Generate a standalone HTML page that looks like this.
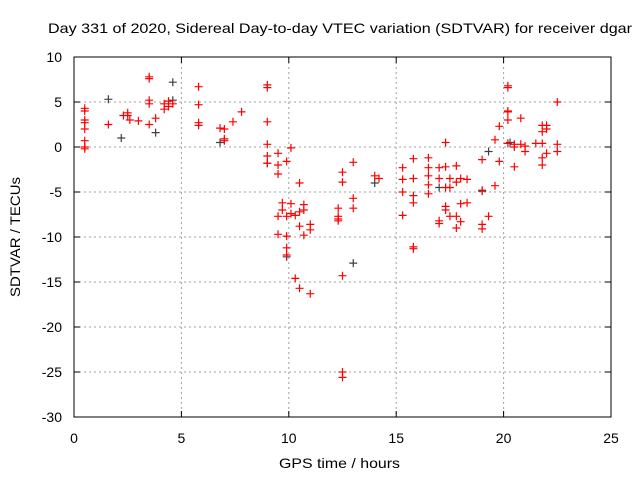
<!DOCTYPE html>
<html><head><meta charset="utf-8"><style>
body{margin:0;background:#fff;font-family:"Liberation Sans",sans-serif}
svg text{font-family:"Liberation Sans",sans-serif;font-size:14px;fill:#000}
</style></head><body>
<svg id="c" width="640" height="480" xmlns="http://www.w3.org/2000/svg">
<rect width="640" height="480" fill="#fff"/>
<g id="grid"></g><g id="pts"></g><g id="ax"></g>
</svg>
<script>
const xTicks=[0,5,10,15,20,25];
const yTicks=[10,5,0,-5,-10,-15,-20,-25,-30];
const redX=[0.5,0.5,0.5,0.5,0.5,0.5,0.5,0.5,1.6,2.3,2.5,2.5,2.6,3,3.5,3.5,3.5,3.5,3.5,3.8,4.2,4.2,4.4,4.4,4.6,5.8,5.8,5.8,5.8,6.8,7,7,7,7.4,7.8,9,9,9,9,9,9,9.5,9.5,9.5,9.5,9.5,9.7,9.7,9.9,9.9,9.9,9.9,9.9,10.1,10.1,10.1,10.3,10.3,10.5,10.5,10.5,10.5,10.7,10.7,10.7,11,11,11,12.3,12.3,12.3,12.3,12.5,12.5,12.5,12.5,12.5,13,13,13,14,14.2,15.3,15.3,15.3,15.3,15.8,15.8,15.8,15.8,15.8,15.8,16.5,16.5,16.5,16.5,16.5,17,17,17,17,17.3,17.3,17.3,17.3,17.3,17.5,17.5,17.5,17.8,17.8,17.8,17.8,18,18,18,18.3,18.3,19,19,19,19,19.3,19.6,19.6,19.8,19.8,20.2,20.2,20.2,20.2,20.2,20.2,20.5,20.5,20.5,20.8,20.8,21,21,21.5,21.8,21.8,21.8,21.8,21.8,22,22,22,22.5,22.5,22.5];
const redY=[4.3,4,3,2.7,2,0.7,0,-0.2,2.5,3.5,3.8,3.5,3,2.9,7.8,7.6,5.2,4.8,2.5,3.2,4.8,4.2,5.1,4.5,4.8,6.7,4.7,2.7,2.4,2.1,2,0.7,0.9,2.8,3.9,6.9,6.6,2.8,0.3,-1,-1.8,-0.7,-2,-3,-7.7,-9.7,-6.2,-7,-1.6,-7.7,-9.9,-11.2,-12,-0.1,-6.3,-7.4,-7.6,-14.6,-4,-7.2,-8.8,-15.7,-6.4,-7,-9.8,-8.6,-9.2,-16.3,-6.8,-7.7,-8,-8.2,-2.8,-3.9,-14.3,-25,-25.6,-1.7,-5.7,-6.8,-3.2,-3.5,-2.3,-3.6,-5,-7.6,-1.3,-3.5,-5.4,-6.2,-11.1,-11.3,-1.2,-2.3,-3.2,-5.2,-4.2,-2.3,-3.5,-8.5,-8.2,0.5,-2.2,-4.5,-6.6,-7,-3.5,-4.5,-7.7,-2.1,-3.9,-7.7,-9,-3.5,-6.3,-8.3,-3.6,-6.2,-1.4,-4.8,-8.6,-9.1,-7.7,-4.3,0.8,-1.6,2.3,6.8,6.6,4,3.9,3,0.4,0,0.3,-2.2,3.2,0.3,0.1,-0.5,0.4,-1.2,-2,1.7,2.4,0.4,2.4,-0.7,2,5,0.3,-0.5];
const grayX=[1.6,2.2,3.8,4.6,4.6,6.8,9,9.9,13,14,17,19,19.3,20.3];
const grayY=[5.3,1,1.6,7.2,5.2,0.5,-1.8,-12.2,-12.9,-4,-4.5,-4.9,-0.5,0.5];
const L=74,R=611,T=57,B=417;
const sx=v=>L+(v-0)/25*(R-L), sy=v=>T+(10-v)/40*(B-T);
const NS='http://www.w3.org/2000/svg';
function mk(t,a,p){const e=document.createElementNS(NS,t);for(const k in a)e.setAttribute(k,a[k]);p.appendChild(e);return e;}
const g=document.getElementById('grid'),ax=document.getElementById('ax'),pts=document.getElementById('pts');
xTicks.forEach(v=>{const x=sx(v);
 if(v>0&&v<25){const l=mk('line',{x1:x,x2:x,y1:T,y2:B,stroke:'#a0a0a0','stroke-dasharray':'2,3'},g);
 }
 mk('line',{x1:x,x2:x,y1:B,y2:B-6,stroke:'#000'},ax);mk('line',{x1:x,x2:x,y1:T,y2:T+6,stroke:'#000'},ax);
 const t=mk('text',{x:x,y:443,'text-anchor':'middle','font-size':'15px'},ax);t.textContent=v;
 });
yTicks.forEach(v=>{const y=sy(v);
 if(v>-30&&v<10){const l=mk('line',{x1:L,x2:R,y1:y,y2:y,stroke:'#a0a0a0','stroke-dasharray':'2,3'},g);
 }
 mk('line',{x1:L,x2:L+6,y1:y,y2:y,stroke:'#000'},ax);mk('line',{x1:R,x2:R-6,y1:y,y2:y,stroke:'#000'},ax);
 const t=mk('text',{x:62,y:y+5,'text-anchor':'end','font-size':'15px'},ax);t.textContent=v;
 });
const bd=mk('rect',{x:L,y:T,width:R-L,height:B-T,fill:'none',stroke:'#000'},ax);

function plus(x,y,c,n){const p=mk('path',{d:`M${x-4} ${y}H${x+4}M${x} ${y-4}V${y+4}`,stroke:c,'stroke-width':1.2},pts);
 }
grayX.forEach((v,i)=>plus(sx(v),sy(grayY[i]),'#404040','gray-point'));
redX.forEach((v,i)=>plus(sx(v),sy(redY[i]),'#ff0000','red-point'));
let t=mk('text',{x:48,y:33,'font-size':'16px',textLength:584,lengthAdjust:'spacingAndGlyphs'},ax);t.textContent='Day 331 of 2020, Sidereal Day-to-day VTEC variation (SDTVAR) for receiver dgar';

t=mk('text',{x:279,y:468,'font-size':'16px',textLength:121,lengthAdjust:'spacingAndGlyphs'},ax);t.textContent='GPS time / hours';

t=mk('text',{x:0,y:0,'font-size':'16px',textLength:120,lengthAdjust:'spacingAndGlyphs',transform:'translate(20,297) rotate(-90)'},ax);t.textContent='SDTVAR / TECUs';

</script>
</body></html>
